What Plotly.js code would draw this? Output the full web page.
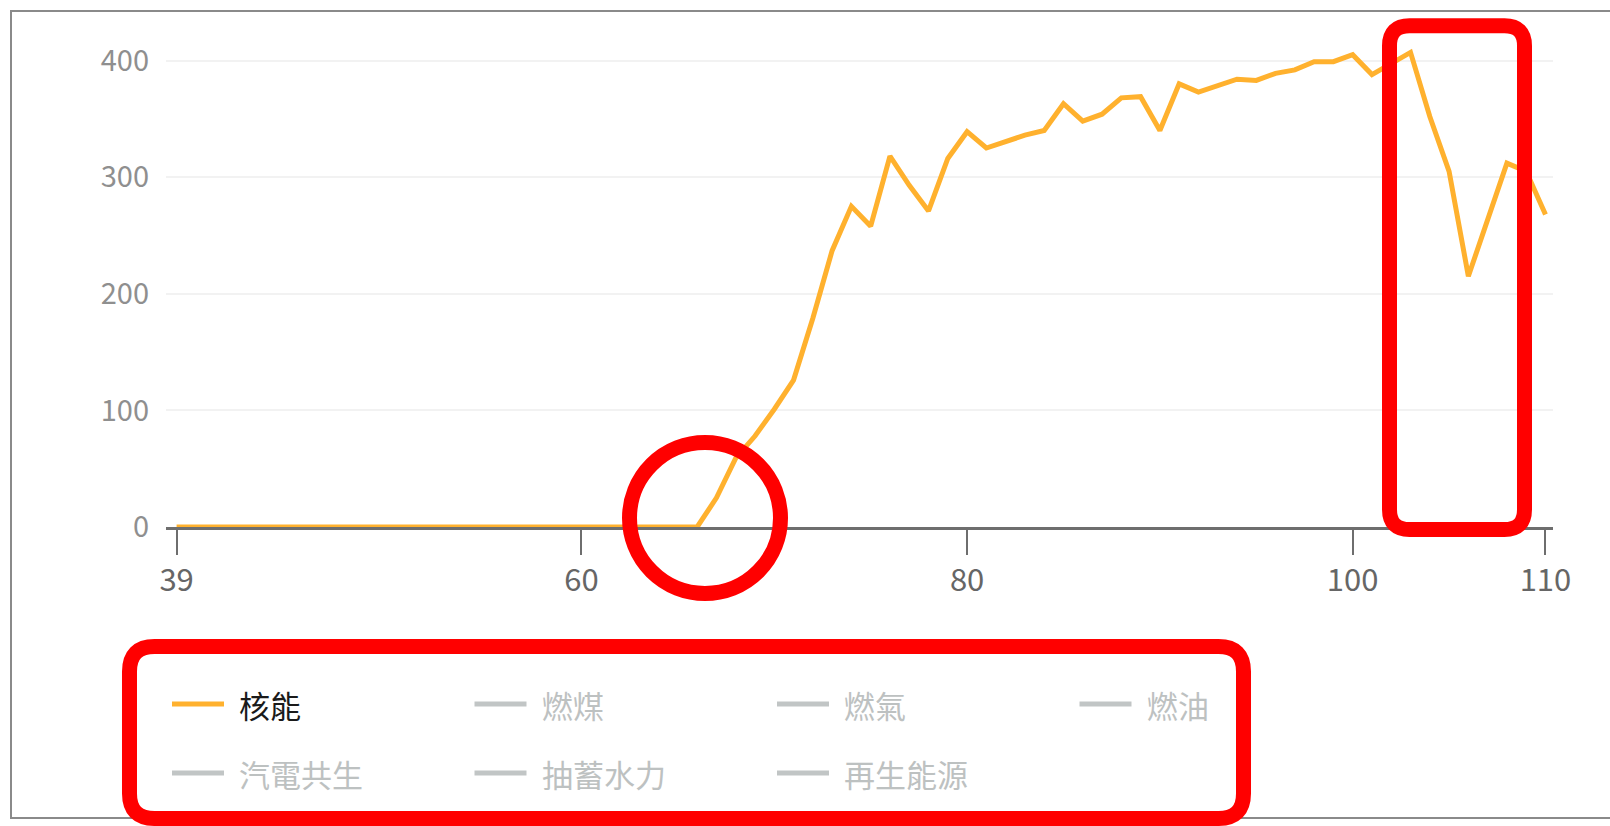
<!DOCTYPE html>
<html>
<head>
<meta charset="utf-8">
<script src="https://cdn.plot.ly/plotly-3.0.1.min.js"></script>
<style>html,body{margin:0;padding:0;background:#fff;}#chart{width:1610px;height:826px;}</style>
</head>
<body>
<div id="chart"></div>
<script>
// ---- data (ROC years) ----
var years = [39,40,41,42,43,44,45,46,47,48,49,50,51,52,53,54,55,56,57,58,59,60,61,62,63,64,65,66,
             67,68,69,70,71,72,73,74,75,76,77,78,79,80,81,82,83,84,85,86,87,88,89,90,
             91,92,93,94,95,96,97,98,99,100,101,102,103,104,105,106,107,108,109,110];
var nuclear = [0,0,0,0,0,0,0,0,0,0,0,0,0,0,0,0,0,0,0,0,0,0,0,0,0,0,0,0,
               25,59,78,101,126,179,237,275,258,318,293,271,316,339,325,331,336,340,363,348,354,368,369,340,
               380,373,379,384,383,389,392,399,399,405,388,398,407,352,305,215,265,312,305,268];
var seriesNames = ['核能','燃煤','燃氣','燃油','汽電共生','抽蓄水力','再生能源'];
var seriesActive = [true,false,false,false,false,false,false];
var xTickVals = [39,60,80,100,110];
var yTickVals = [0,100,200,300,400];

// ---- geometry ----
var W = 1610, H = 826;
var M = {l:166, r:57, t:37, b:299};
var PW = W - M.l - M.r, PH = H - M.t - M.b;
function px(x){ return (x - M.l) / PW; }
function py(y){ return (H - M.b - y) / PH; }
var FONT = '"Noto Sans CJK TC", "Noto Sans", sans-serif';
var ORANGE = '#FFB12E', GREYLINE = '#c1c5c5', GREYTEXT = '#bdc1c1', RED = '#ff0000';

function roundRect(x0, y0, x1, y1, r){
  function P(x,y){ return px(x).toFixed(5) + ',' + py(y).toFixed(5); }
  return 'M' + P(x0+r,y0) + ' L' + P(x1-r,y0) + ' Q' + P(x1,y0) + ' ' + P(x1,y0+r) +
         ' L' + P(x1,y1-r) + ' Q' + P(x1,y1) + ' ' + P(x1-r,y1) +
         ' L' + P(x0+r,y1) + ' Q' + P(x0,y1) + ' ' + P(x0,y1-r) +
         ' L' + P(x0,y0+r) + ' Q' + P(x0,y0) + ' ' + P(x0+r,y0) + ' Z';
}

var shapes = [];
var annotations = [];

// outer frame
shapes.push({type:'rect', xref:'paper', yref:'paper', x0:px(11), x1:px(1625), y0:py(818), y1:py(11),
             line:{color:'#8a8a8a', width:2}, fillcolor:'rgba(0,0,0,0)', layer:'below'});

// legend (manual layout)
var colW = 302.5, legX = 172, rowY = [704, 773];
seriesNames.forEach(function(name, i){
  var col = i % 4, row = Math.floor(i / 4);
  var x0 = legX + col * colW, y = rowY[row];
  shapes.push({type:'line', xref:'paper', yref:'paper', x0:px(x0), x1:px(x0+52), y0:py(y), y1:py(y),
               line:{color: seriesActive[i] ? ORANGE : GREYLINE, width:5}});
  annotations.push({xref:'paper', yref:'paper', x:px(x0+65), y:py(y), xanchor:'left', yanchor:'middle',
                    showarrow:false, text:name,
                    font:{family:FONT, size:31, color: seriesActive[i] ? '#1a1a1a' : GREYTEXT}});
});

// red highlight marks
var cx = 705, cy = 518, cr = 75.5;
shapes.push({type:'circle', xref:'paper', yref:'paper', x0:px(cx-cr), x1:px(cx+cr), y0:py(cy+cr), y1:py(cy-cr),
             line:{color:RED, width:15}, fillcolor:'rgba(0,0,0,0)'});
shapes.push({type:'path', xref:'paper', yref:'paper', path: roundRect(1389.5, 25.8, 1524.5, 529.5, 20),
             line:{color:RED, width:15}, fillcolor:'rgba(0,0,0,0)'});
shapes.push({type:'path', xref:'paper', yref:'paper', path: roundRect(129.5, 646.5, 1243.5, 818.5, 25),
             line:{color:RED, width:15}, fillcolor:'rgba(0,0,0,0)'});

var trace = {
  x: years, y: nuclear, type:'scatter', mode:'lines', name: seriesNames[0],
  line:{color:ORANGE, width:5, shape:'linear'}, hoverinfo:'x+y', showlegend:false
};

var layout = {
  width:W, height:H, autosize:false,
  margin:{l:M.l, r:M.r, t:M.t, b:M.b, pad:0},
  paper_bgcolor:'#ffffff', plot_bgcolor:'#ffffff',
  font:{family:FONT, color:'#666'},
  showlegend:false,
  xaxis:{
    range:[38.45, 110.39], tickmode:'array', tickvals:xTickVals, ticktext:xTickVals.map(String),
    showgrid:false, zeroline:false, showline:true, linecolor:'#6e6e6e', linewidth:2.5,
    ticks:'outside', ticklen:25, tickwidth:2, tickcolor:'#6e6e6e',
    tickfont:{family:FONT, size:31, color:'#666666'}, ticklabelstandoff:-1, layer:'below traces', fixedrange:true
  },
  yaxis:{
    range:[0, 420.2], tickmode:'array', tickvals:yTickVals, ticktext:yTickVals.map(String),
    showgrid:true, gridcolor:'#f2f2f2', gridwidth:2, zeroline:false, showline:false, ticks:'',
    tickfont:{family:FONT, size:29, color:'#8f8f8f'}, ticklabelstandoff:16, fixedrange:true
  },
  shapes:shapes,
  annotations:annotations
};

Plotly.newPlot('chart', [trace], layout, {displayModeBar:false, staticPlot:true});
</script>
</body>
</html>
